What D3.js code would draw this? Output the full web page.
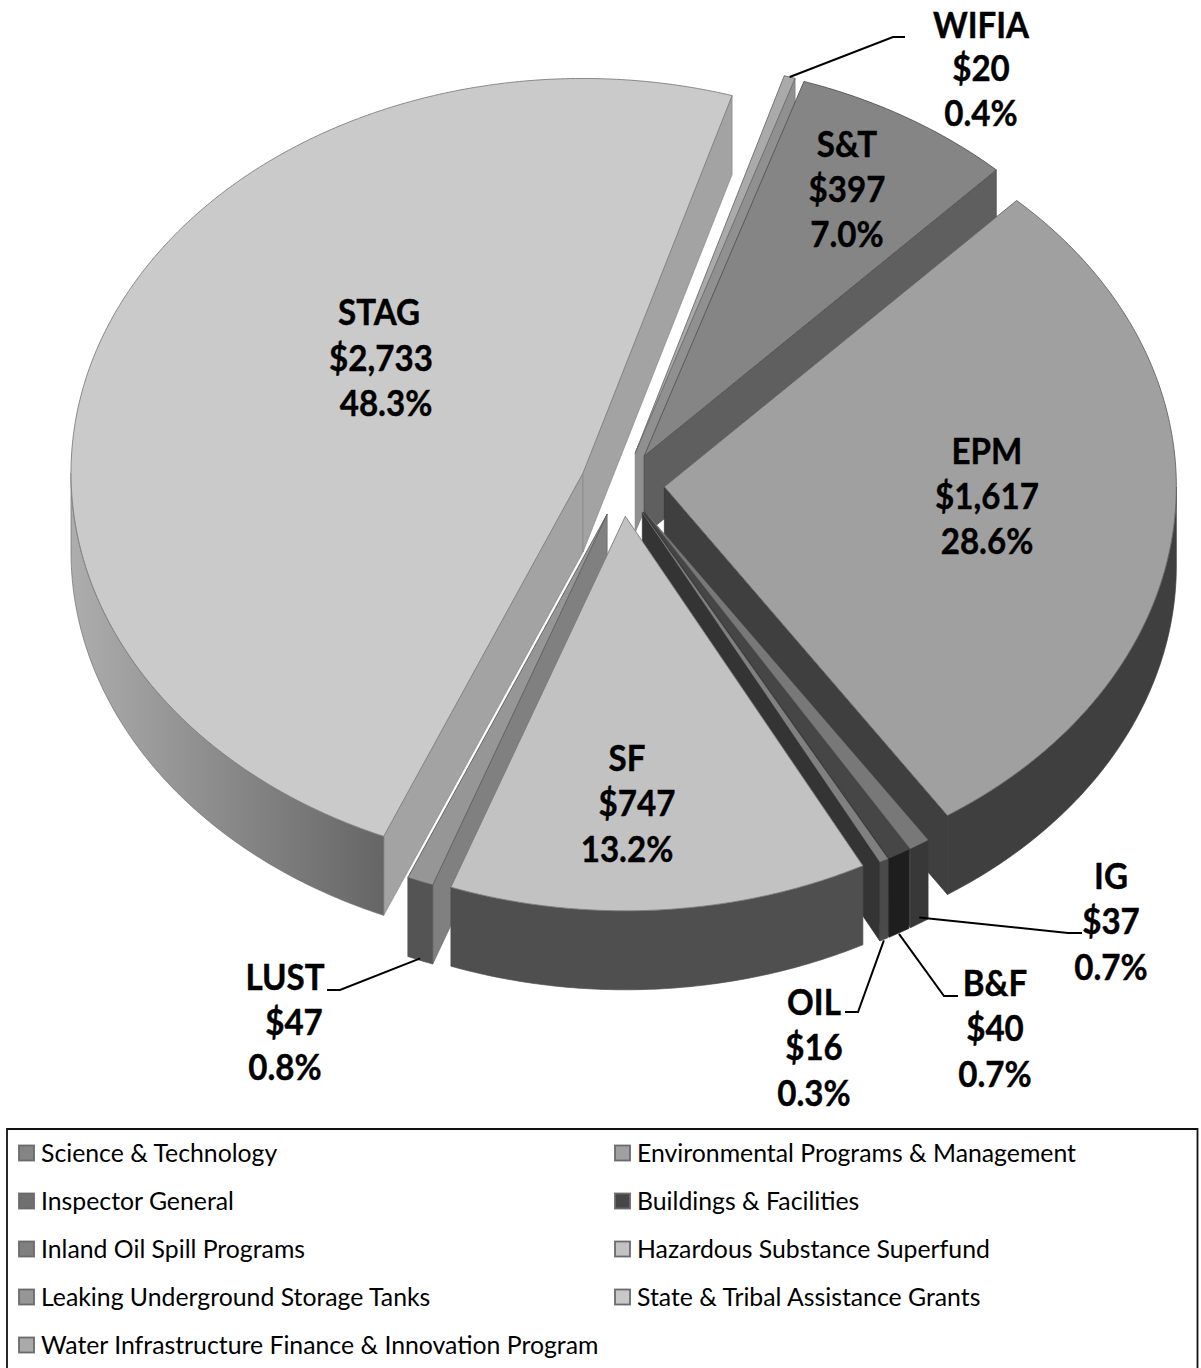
<!DOCTYPE html>
<html><head><meta charset="utf-8">
<script src="https://cdn.jsdelivr.net/npm/d3@7/dist/d3.min.js"></script>
<style>html,body{margin:0;padding:0;background:#fff}svg{display:block}text{font-family:Lato,Carlito,sans-serif}</style>
</head><body><svg id="c" width="1201" height="1368"></svg>
<script>
// data, in pie order (clockwise)
const codes = ["S&T","EPM","IG","B&F","OIL","SF","LUST","STAG","WIFIA"];
const names = ["Science & Technology","Environmental Programs & Management","Inspector General","Buildings & Facilities","Inland Oil Spill Programs","Hazardous Substance Superfund","Leaking Underground Storage Tanks","State & Tribal Assistance Grants","Water Infrastructure Finance & Innovation Program"];
const values = [397,1617,37,40,16,747,47,2733,20];
const moneyLabels = ["$397","$1,617","$37","$40","$16","$747","$47","$2,733","$20"];
const pctLabels = ["7.0%","28.6%","0.7%","0.7%","0.3%","13.2%","0.8%","48.3%","0.4%"];
// styles
const topFill   = ["#858585","#a0a0a0","#787878","#464646","#808080","#c2c2c2","#969696","#cacaca","#aaaaaa"];
const outerFill = ["#5f5f5f","#3f3f3f","#383838","#1e1e1e","#4a4a4a","#4f4f4f","#545454","url(#stagOuter)","#909090"];
const wallFill  = ["#5f5f5f","#3f3f3f","#484848","#363636","#343434","#4f4f4f","#808080","#a3a3a3","#909090"];
const swatch    = ["#858585","#a0a0a0","#6f6f6f","#464646","#808080","#c2c2c2","#969696","#c8c8c8","#aaaaaa"];

const cfg = {cx:622.5,cy:484,rx:512,ry:394.5,depth:79,explode:42,start:18.2*Math.PI/180};
const svg = d3.select("#c");
const defs = svg.append("defs");
const g0 = defs.append("linearGradient").attr("id","stagOuter").attr("gradientUnits","userSpaceOnUse")
  .attr("x1",68).attr("x2",385).attr("y1",0).attr("y2",0);
g0.append("stop").attr("offset",0).attr("stop-color","#aeaeae");
g0.append("stop").attr("offset",1).attr("stop-color","#656565");

const arcs = d3.pie().sort(null).value(d=>d).startAngle(cfg.start).endAngle(cfg.start+2*Math.PI)(values)
 .map((a,i)=>{
   const mid=(a.startAngle+a.endAngle)/2;
   const ax=cfg.cx+cfg.explode*Math.sin(mid), ay=cfg.cy-cfg.explode*Math.cos(mid)*cfg.ry/cfg.rx;
   return {i,a0:a.startAngle,a1:a.endAngle,mid,ax,ay,key:ay-Math.cos(mid)*cfg.ry*0.5};
 });
const rim=(s,t,z=0)=>[s.ax+cfg.rx*Math.sin(t), s.ay-cfg.ry*Math.cos(t)+z];
const sampled=(a,b)=>{const n=Math.max(2,Math.ceil((b-a)/0.01));return d3.range(n+1).map(k=>a+(b-a)*k/n);};
const line=d3.line();
const pie=svg.append("g");
const thin=new Set([2,3,4]);

arcs.slice().sort((p,q)=>d3.ascending(p.key,q.key)).forEach(s=>{
  const g=pie.append("g");
  const d=cfg.depth;
  const wall=(t,norm)=>{
    if(norm<=0) return;
    const p=rim(s,t);
    g.append("path").attr("d",line([[s.ax,s.ay],p,[p[0],p[1]+d],[s.ax,s.ay+d]])+"Z")
      .attr("fill",wallFill[s.i]).attr("stroke",d3.color(wallFill[s.i]).darker(thin.has(s.i)?0:0.5)).attr("stroke-width",0.7).attr("stroke-linejoin","round");
  };
  wall(s.a0,-Math.sin(s.a0));
  wall(s.a1,Math.sin(s.a1));
  // outer wall, visible on the front half
  const ranges=[[Math.PI/2,3*Math.PI/2],[Math.PI/2+2*Math.PI,3*Math.PI/2+2*Math.PI]];
  ranges.forEach(([lo,hi])=>{
    const a=Math.max(lo,s.a0), b=Math.min(hi,s.a1);
    if(b>a){
      const ts=sampled(a,b);
      const pts=ts.map(t=>rim(s,t)).concat(ts.slice().reverse().map(t=>rim(s,t,d)));
      g.append("path").attr("d",line(pts)+"Z").attr("fill",outerFill[s.i]).attr("stroke",s.i===7?"#6e6e6e":outerFill[s.i]).attr("stroke-width",0.7);
    }
  });
  const pts=[[s.ax,s.ay]].concat(sampled(s.a0,s.a1).map(t=>rim(s,t)));
  g.append("path").attr("d",line(pts)+"Z").attr("fill",topFill[s.i])
    .attr("stroke",thin.has(s.i)?topFill[s.i]:d3.color(topFill[s.i]).darker(1.3)).attr("stroke-width",thin.has(s.i)?0.3:0.9).attr("stroke-linejoin","round");
});

// leader lines: start on the slice rim, elbow beside the label
const leaderLayout = {8:{z:0,pts:[[893,37],[905,37]]},2:{z:73,pts:[[1068,933],[1082,933]]},3:{z:80,pts:[[944,996],[958,996]]},4:{z:80,pts:[[858,1012],[845,1012]]},6:{z:77,pts:[[340,990],[327,990]]}};
Object.entries(leaderLayout).forEach(([k,l])=>{
  const s=arcs[+k];
  svg.append("path").attr("d",line([rim(s,s.mid,l.z)].concat(l.pts))).attr("fill","none").attr("stroke","#000").attr("stroke-width",2);
});

// data labels
const labelLayout = {
 0:{x:[847,847,847],y:[157,202,247]},
 1:{x:[987,987,987],y:[464,509,554]},
 2:{x:[1111,1111,1111],y:[889,934,980]},
 3:{x:[995,995,995],y:[996,1041,1087]},
 4:{x:[814,814,814],y:[1015,1060,1106]},
 5:{x:[627,637,627],y:[771,816,862]},
 6:{x:[285,294,285],y:[990,1035,1080]},
 7:{x:[379,381,386],y:[325,371,416]},
 8:{x:[981,981,981],y:[38,81,126]}};
codes.forEach((c,i)=>{
  [c,moneyLabels[i],pctLabels[i]].forEach((t,j)=>{
    const el=svg.append("text").attr("x",labelLayout[i].x[j]).attr("y",labelLayout[i].y[j]).attr("text-anchor","middle")
      .attr("font-size",36).attr("font-weight",700).attr("fill","#000").attr("stroke","#000").attr("stroke-width",0.4).text(t);
    el.attr("textLength",el.node().getComputedTextLength()*0.92).attr("lengthAdjust","spacingAndGlyphs");
  });
});

// legend
svg.append("path").attr("d","M7,1375V1129H1197.5V1375").attr("fill","none").attr("stroke","#111").attr("stroke-width",1.8);
const colX=d3.scaleOrdinal().domain([0,1]).range([18,614]);
const rowY=d3.scaleLinear().domain([0,4]).range([1153,1345]);
names.forEach((n,i)=>{
  const x=colX(i%2), y=rowY(Math.floor(i/2));
  svg.append("rect").attr("x",x+1).attr("y",y-7.5).attr("width",15).attr("height",15).attr("fill",swatch[i]).attr("stroke","#6a6a6a").attr("stroke-width",1.8);
  svg.append("text").attr("x",x+23).attr("y",y+9).attr("font-size",24.8).attr("fill","#000").text(n);
});
</script></body></html>
